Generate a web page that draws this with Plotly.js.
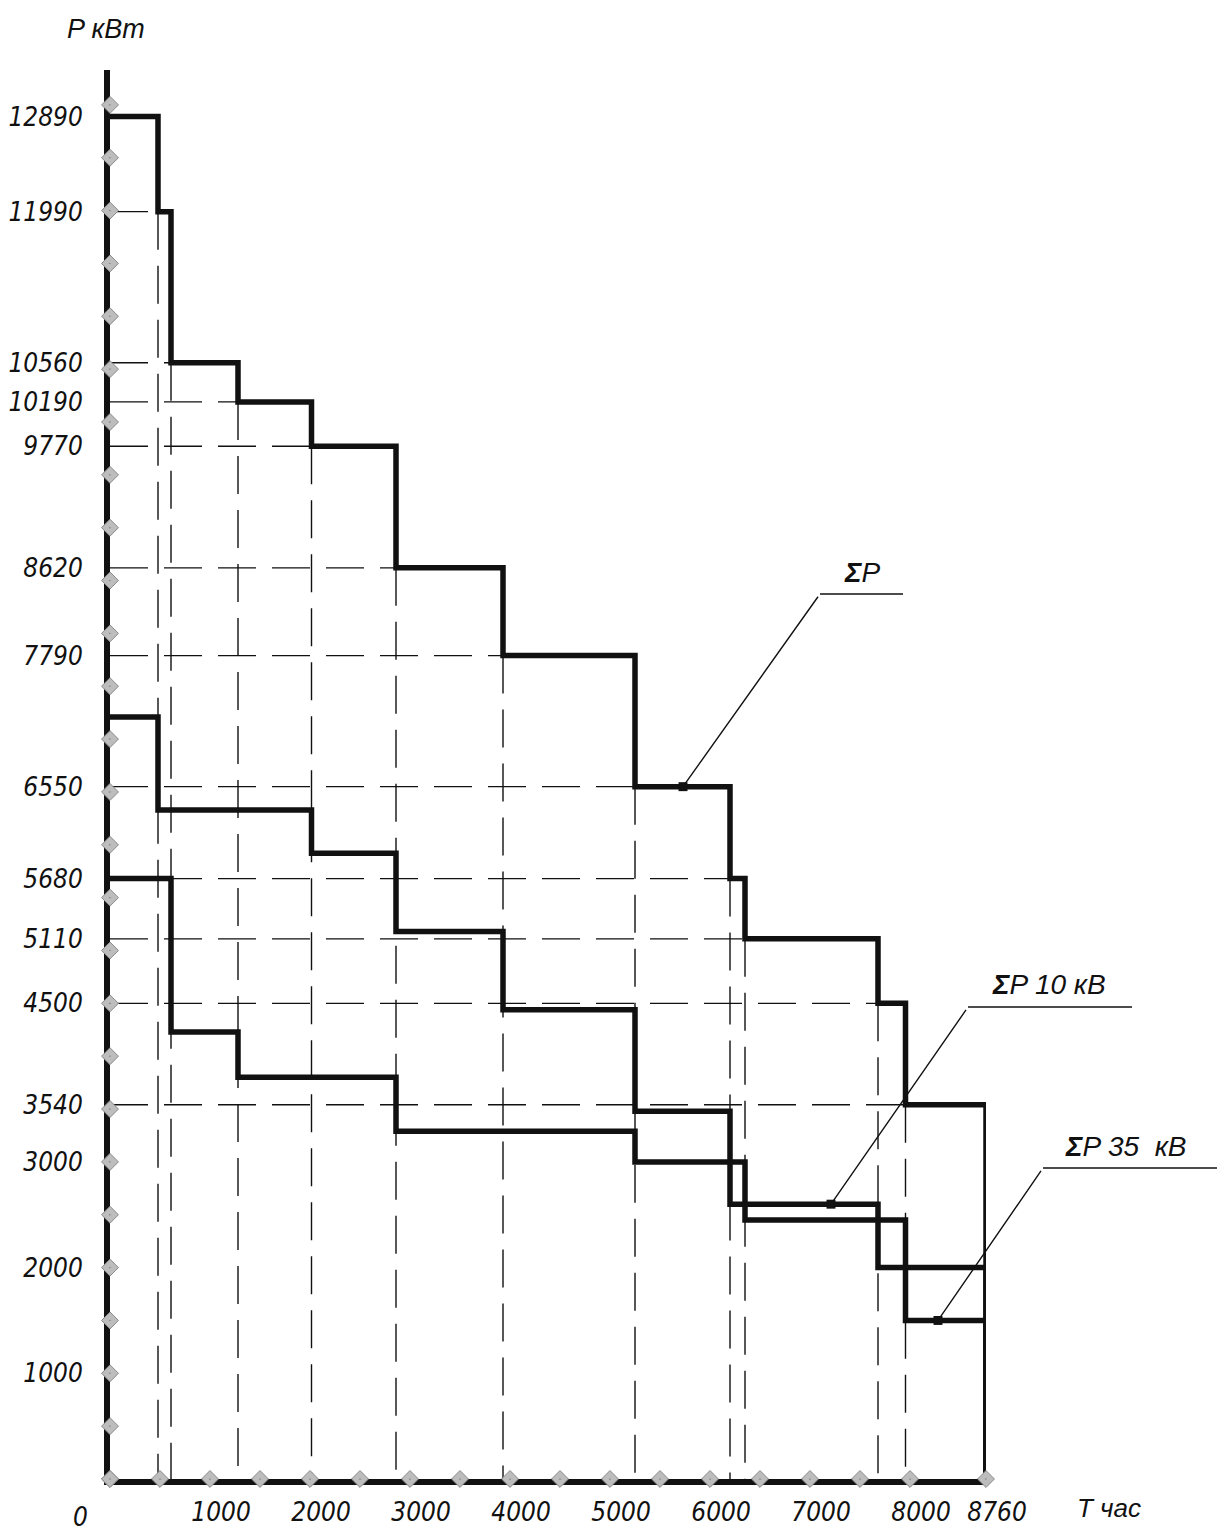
<!DOCTYPE html>
<html>
<head>
<meta charset="utf-8">
<script src="https://cdn.plot.ly/plotly-3.0.1.min.js"></script>
<style>
html, body { margin: 0; padding: 0; background: #ffffff; }
#chart { width: 1229px; height: 1535px; }
</style>
</head>
<body>
<div id="chart"></div>
<script>
// ---- data ----
// ΣP : step boundaries, hours, and power levels, kW
const hoursTotal = [0, 480, 610, 1280, 2015, 2860, 3930, 5250, 6200, 6350, 7680, 7955, 8760];
const powerTotal = [12890, 11990, 10560, 10190, 9770, 8620, 7790, 6550, 5680, 5110, 4500, 3540];
// ΣP 10 кВ
const hours10 = [0, 480, 2015, 2860, 3930, 5250, 6200, 7680, 8760];
const power10 = [7210, 6330, 5920, 5180, 4440, 3480, 2600, 2000];
// ΣP 35 кВ
const hours35 = [0, 610, 1280, 2860, 5250, 6350, 7955, 8760];
const power35 = [5680, 4230, 3800, 3290, 3000, 2450, 1500];

// tick labels
const yTickVals = [1000, 2000, 3000, 3540, 4500, 5110, 5680, 6550, 7790, 8620, 9770, 10190, 10560, 11990, 12890];
const xTickVals = [1000, 2000, 3000, 4000, 5000, 6000, 7000, 8000, 8760];

// drawing nodes on the axes
const nodeHours = [0, 500, 1000, 1500, 2000, 2500, 3000, 3500, 4000, 4500, 5000, 5500, 6000, 6500, 7000, 7500, 8000, 8760];
const nodePower = [0, 500, 1000, 1500, 2000, 2500, 3000, 3500, 4000, 4500, 5000, 5500, 6000, 6500,
                   7000, 7500, 8000, 8500, 9000, 9500, 10000, 10500, 11000, 11500, 12000, 12500, 13000];

// leader anchors on curves [hours, kW]
const anchorTotal = [5730, 6550];
const anchor10 = [7210, 2600];
const anchor35 = [8280, 1500];

const labelTotal = '<b>Σ</b>P';
const label10 = '<b>Σ</b>P 10 кВ';
const label35 = '<b>Σ</b>P 35  кВ';
const yTitle = 'P кВт';
const xTitle = 'T час';

// ---- styles ----
const INK = '#111111';
const NUM = "'Liberation Sans Narrow', 'DejaVu Sans Condensed', 'Liberation Sans', sans-serif";
const WIDE = "'Liberation Sans', 'DejaVu Sans', sans-serif";

function stepTrace(h, p) {
  return {
    x: h, y: p.concat([0]), type: 'scatter', mode: 'lines',
    line: { shape: 'hv', width: 5.5, color: INK },
    hoverinfo: 'skip', showlegend: false
  };
}

// dashed guides from each ΣP corner to both axes
const gx = [], gy = [];
for (let i = 1; i < powerTotal.length; i++) {
  gx.push(0, hoursTotal[i], null, hoursTotal[i], hoursTotal[i], null);
  gy.push(powerTotal[i], powerTotal[i], null, powerTotal[i], 0, null);
}

const guides = {
  x: gx, y: gy, type: 'scatter', mode: 'lines', connectgaps: false,
  line: { color: INK, width: 1.4, dash: '38px,16px' },
  hoverinfo: 'skip', showlegend: false
};

const nodes = {
  x: nodeHours.concat(nodePower.map(() => 0)),
  y: nodeHours.map(() => 0).concat(nodePower),
  type: 'scatter', mode: 'markers', cliponaxis: false,
  marker: { symbol: 'diamond-dot', size: 13, color: '#bdbdbd', line: { color: '#8a8a8a', width: 1 } },
  hoverinfo: 'skip', showlegend: false
};

const data = [guides, stepTrace(hours35, power35), stepTrace(hours10, power10), stepTrace(hoursTotal, powerTotal), nodes];

function leader(anchor, tailX, tailY) {
  return {
    x: anchor[0], y: anchor[1], xref: 'x', yref: 'y',
    ax: tailX, ay: tailY, axref: 'x', ayref: 'y',
    text: ' ', font: { size: 2 }, showarrow: true,
    arrowhead: 7, arrowsize: 1.6, arrowwidth: 1.4, arrowcolor: INK, standoff: 0
  };
}
function label(text, x, y) {
  return {
    text: text, xref: 'paper', yref: 'paper', x: x, y: y,
    xanchor: 'left', yanchor: 'bottom', showarrow: false,
    font: { family: WIDE, size: 28, style: 'italic', color: INK }
  };
}
function underline(x0, x1, y) {
  return { type: 'line', xref: 'paper', yref: 'paper', x0: x0, x1: x1, y0: y, y1: y,
           line: { color: INK, width: 1.4 } };
}

const tickFont = { family: NUM, size: 26, style: 'italic', color: INK };

const layout = {
  width: 1229, height: 1535,
  margin: { l: 110, r: 243, t: 70, b: 56, pad: 0 },
  paper_bgcolor: '#ffffff', plot_bgcolor: '#ffffff',
  showlegend: false, hovermode: false,
  xaxis: {
    range: [0, 8760], fixedrange: true,
    showgrid: false, zeroline: false, showline: true, linewidth: 6, linecolor: INK,
    ticks: '', tickvals: xTickVals, ticktext: xTickVals.map(String),
    tickfont: tickFont,
    ticklabelshift: 11, ticklabelstandoff: 5, layer: 'below traces', automargin: false
  },
  yaxis: {
    range: [0, 13330], fixedrange: true,
    showgrid: false, zeroline: false, showline: true, linewidth: 6, linecolor: INK,
    ticks: '', tickvals: yTickVals, ticktext: yTickVals.map(String),
    tickfont: tickFont,
    ticklabelstandoff: 16, layer: 'below traces', automargin: false
  },
  annotations: [
    { text: '0', xref: 'paper', yref: 'paper', x: 0, y: 0, xanchor: 'center', yanchor: 'middle',
      xshift: -30, yshift: -38, showarrow: false, font: tickFont },
    { text: yTitle, xref: 'paper', yref: 'paper', x: -0.0046, y: 1.0291, xanchor: 'center', yanchor: 'middle',
      showarrow: false, font: { family: WIDE, size: 27, style: 'italic', color: INK } },
    { text: xTitle, xref: 'paper', yref: 'paper', x: 1.1016, y: -0.0206, xanchor: 'left', yanchor: 'middle',
      showarrow: false, font: { family: WIDE, size: 26, style: 'italic', color: INK } },
    leader(anchorTotal, 7100, 8373),
    leader(anchor10, 8580, 4465),
    leader(anchor35, 9330, 2942),
    label(labelTotal, 0.8356, 0.6309),
    label(label10, 1.0046, 0.3385),
    label(label35, 1.0879, 0.2236)
  ],
  shapes: [
    underline(0.8105, 0.9053, 0.6281),
    underline(0.9795, 1.1667, 0.3350),
    underline(1.0651, 1.2637, 0.2207)
  ]
};

Plotly.newPlot('chart', data, layout, { staticPlot: true, displayModeBar: false });
</script>
</body>
</html>
